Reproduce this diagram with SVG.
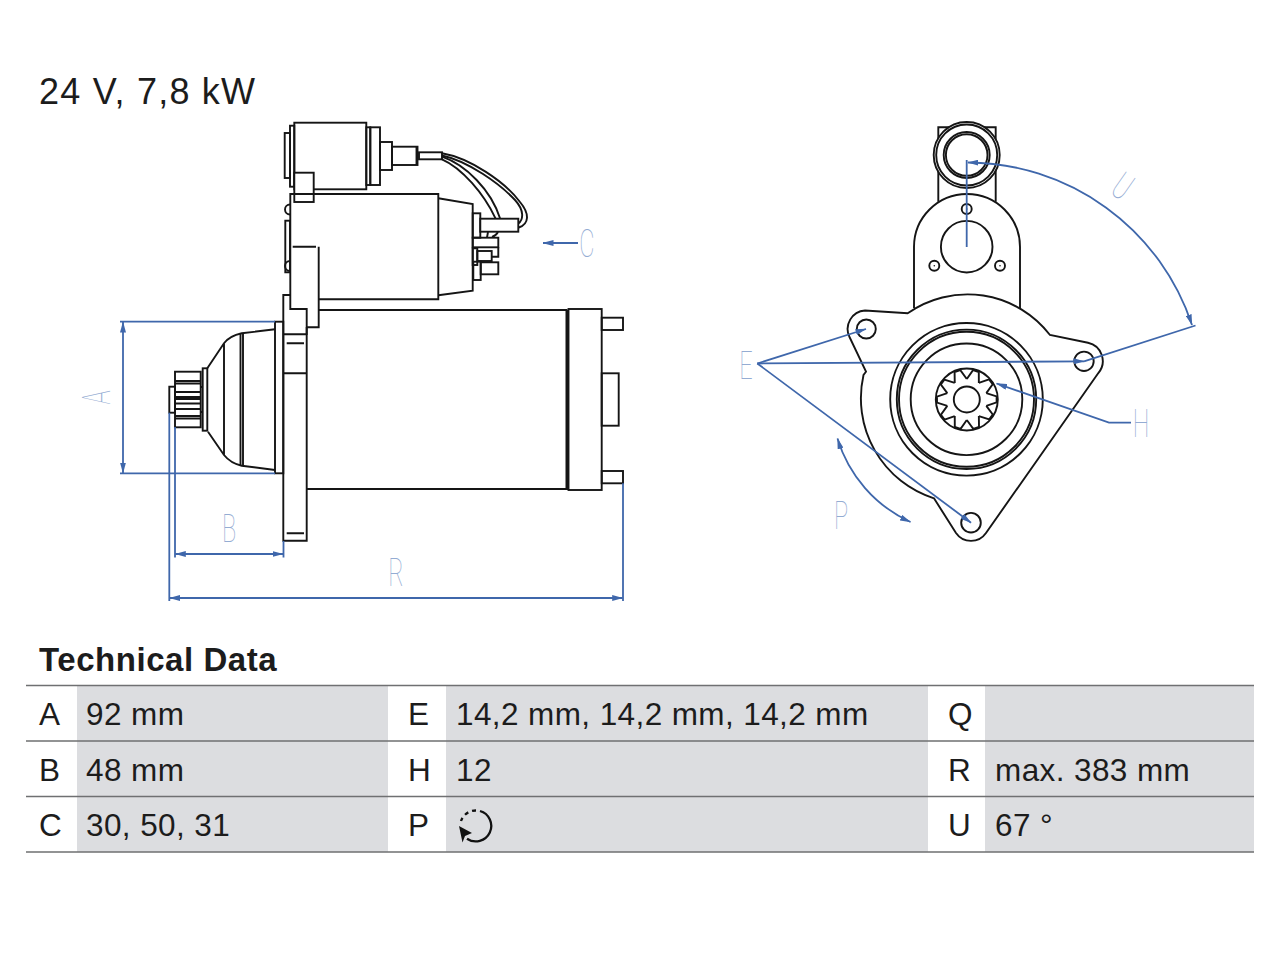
<svg xmlns="http://www.w3.org/2000/svg" xmlns:xlink="http://www.w3.org/1999/xlink" width="1280" height="960" viewBox="0 0 1280 960">
<style>
.k{fill:none;stroke:#151515;stroke-width:1.9;stroke-linejoin:miter}
.w{fill:#fff;stroke:#151515;stroke-width:1.9}
.t{fill:none;stroke:#151515;stroke-width:3}
.b{fill:none;stroke:#3f67ab;stroke-width:1.8}
.a{marker-end:url(#ah)}
.aa{marker-start:url(#ah);marker-end:url(#ah)}
.lab{font-family:Roboto,"Liberation Sans",sans-serif;font-weight:100;font-size:38px;fill:#94acd3;text-anchor:middle}
.td{font-family:"Liberation Sans",Arial,sans-serif;font-size:31.5px;fill:#1c1c1c;letter-spacing:.4px}
.rule{stroke:#6f7072;stroke-width:1.3}
.cell{fill:#dcdde0}
</style>
<defs>
<marker id="ah" viewBox="0 0 11 6" refX="10.5" refY="3" markerWidth="11" markerHeight="6" markerUnits="userSpaceOnUse" orient="auto-start-reverse"><path d="M0,0 L11,3 L0,6 Z" fill="#3f67ab"/></marker>
<polyline id="tooth" points="0,-20.5 6.2,-29.3 12,-27.5 12.05,-16.6" class="k"/>
</defs>
<rect width="1280" height="960" fill="#fff"/>
<text id="title" x="39" y="104" font-family="Liberation Sans,Arial,sans-serif" font-size="36" letter-spacing="1.2" fill="#1c1c1c">24 V, 7,8 kW</text>

<g id="side-view">
 <g id="upper-solenoid">
  <rect class="k" x="284.7" y="133" width="5.3" height="45"/>
  <rect class="k" x="290" y="125.7" width="4.3" height="61"/>
  <rect class="k" x="294.3" y="122.7" width="72" height="66.6"/>
  <rect class="k" x="366.3" y="127.3" width="4" height="57.7"/>
  <rect class="k" x="370.3" y="127.3" width="9.7" height="57.7"/>
  <rect class="k" x="380" y="142" width="12" height="28"/>
  <rect class="k" x="392" y="146.7" width="25.5" height="18.3"/>
  <path class="k" d="M416.5,147V165" stroke-width="2.5"/>
  <rect class="k" x="419" y="152.3" width="23" height="7"/>
  <rect class="w" x="294.3" y="172.7" width="19.4" height="29.3"/>
 </g>
 <g id="wires">
  <path class="k" d="M442,153.3C470,158 505,182 520,202C530,214 529,224 518.8,227.5"/>
  <path class="k" d="M442,155.5C468,161 500,184 515,200C525,211 523,220 518.3,223.5"/>
  <path class="k" d="M442,156.7C466,165 491,190 500,218.3"/>
  <path class="k" d="M442,159.3C462,168 484,194 495.5,218.3"/>
 </g>
 <g id="lower-solenoid">
  <path class="k" d="M290,194H438.3V299.3H319"/>
  <path class="k" d="M438.3,198.3L472.7,204V290.7L438.3,295.3"/>
  <rect class="k" x="472.7" y="213.3" width="7.6" height="24.4"/>
  <rect class="w" x="480.3" y="218.7" width="38" height="13"/>
  <path class="k" d="M488,232L487,237.5M492,237C495,236 497,234 498,232"/>
  <rect class="k" x="472.7" y="237.7" width="25.6" height="9.6"/>
  <path class="k" d="M498.3,247.3V256.7H491.7"/>
  <rect class="k" x="472.7" y="248.3" width="4.6" height="16.7"/>
  <rect class="k" x="477.3" y="251" width="14.4" height="10"/>
  <rect class="k" x="473.3" y="261.7" width="7.4" height="18.3"/>
  <rect class="k" x="480.7" y="262.3" width="17.6" height="12"/>
 </g>
 <g id="bracket">
  <path class="k" d="M294,194H290.3V309H306.7V335"/>
  <path class="k" d="M290,204.5A5,5 0 0 0 290,214.5"/>
  <rect class="k" x="285.3" y="220.7" width="4.7" height="51.6"/>
  <path class="k" d="M290,261A5,5 0 0 0 290,271"/>
  <path class="k" d="M292.7,246.7H316M318.7,246.7V327.3H306.7"/>
  <path class="k" d="M290.3,295H283.3V540.7H306.7V327"/>
  <path class="k" d="M283.3,334.3H306.7M283.3,373.3H306.7M286.7,343.3H304M286.7,533.3H304"/>
 </g>
 <g id="motor">
  <path class="k" d="M318.7,310H567M306.7,489H567"/>
  <path class="t" d="M567,309.5V490"/>
  <rect class="k" x="568.5" y="309" width="33.2" height="181"/>
  <rect class="k" x="601.7" y="317.7" width="21.3" height="12.3"/>
  <rect class="k" x="601.7" y="373.3" width="17" height="52.4"/>
  <rect class="k" x="601.7" y="471" width="21.3" height="12.3"/>
 </g>
 <g id="nose">
  <rect class="k" x="275" y="321.7" width="8.3" height="151.6"/>
  <path class="k" d="M275,329.3L241.7,333.3C234,335 228,338 224,343.3L207.3,368.3M275,470L241.7,465.7C234,464 228,460 224,455L208,431.7M224,343.3V455"/>
  <path class="k" d="M240.5,333.5V465.5M243,333.3V465.7"/>
  <rect class="k" x="202.7" y="368.3" width="4.6" height="62.4"/>
  <path class="k" d="M200.7,387H202.7M200.7,412H202.7"/>
  <rect class="k" x="169.3" y="386.7" width="5.7" height="26"/>
  <rect class="k" x="175" y="371.7" width="25.7" height="55.6" stroke-width="2.2"/>
  <path class="k" d="M175,381H200.7M175,383.5H200.7M175,392H200.7M175,397H200.7M175,399H200.7M175,403.5H200.7M175,409H200.7M175,416H200.7M175,418.5H200.7" stroke-width="1.4"/>
 </g>
</g>

<g id="end-view">
 <g id="end-solenoid">
  <path class="k" d="M938.3,201.7V127.3H995.7V201.7"/>
  <circle cx="966.7" cy="155" r="33" class="w"/>
  <circle cx="966.7" cy="155" r="30.5" class="k"/>
  <circle cx="966.7" cy="155" r="23" class="k" stroke-width="2.4"/>
  <circle cx="966.7" cy="155" r="20.8" class="k"/>
 </g>
 <g id="end-plate">
  <path class="k" d="M914,308V247A53,53 0 0 1 1020,247V309"/>
  <circle cx="966.7" cy="209" r="5" class="k"/>
  <circle cx="966.7" cy="246.7" r="25.8" class="k"/>
  <circle cx="934.3" cy="265.7" r="5" class="k"/>
  <circle cx="934.3" cy="265.7" r=".8" fill="#151515"/>
  <circle cx="1000" cy="265.7" r="5" class="k"/>
  <circle cx="1000" cy="265.7" r=".8" fill="#151515"/>
  <circle cx="966.7" cy="209" r=".8" fill="#151515"/>
 </g>
 <g id="housing">
  <path class="k" d="M907.7,313.3A104,104 0 0 1 1050,335L1088,342.7A18.7,18.7 0 0 1 1098.5,372.8L986,533A18.2,18.2 0 0 1 956,533L934,498.3A105,105 0 0 1 863.5,375L866,371.7L849.5,337A18.5,18.5 0 0 1 865,310.5Z"/>
  <circle cx="866.3" cy="329" r="9.5" class="k"/>
  <circle cx="1084" cy="361.3" r="9.7" class="k"/>
  <circle cx="971" cy="522.7" r="9.8" class="k"/>
 </g>
 <g id="bore">
  <circle cx="966.5" cy="399.3" r="76.3" class="k"/>
  <circle cx="966.5" cy="399.3" r="69.7" class="k"/>
  <circle cx="966.5" cy="399.3" r="67.5" class="k"/>
  <circle cx="966.5" cy="399.3" r="55.8" class="k"/>
 </g>
 <g id="pinion" transform="translate(966.8 399.5)">
  <circle r="31" class="k"/>
  <circle r="13" class="k"/>
  <use xlink:href="#tooth" href="#tooth"/>
  <use xlink:href="#tooth" href="#tooth" transform="rotate(36)"/>
  <use xlink:href="#tooth" href="#tooth" transform="rotate(72)"/>
  <use xlink:href="#tooth" href="#tooth" transform="rotate(108)"/>
  <use xlink:href="#tooth" href="#tooth" transform="rotate(144)"/>
  <use xlink:href="#tooth" href="#tooth" transform="rotate(180)"/>
  <use xlink:href="#tooth" href="#tooth" transform="rotate(216)"/>
  <use xlink:href="#tooth" href="#tooth" transform="rotate(252)"/>
  <use xlink:href="#tooth" href="#tooth" transform="rotate(288)"/>
  <use xlink:href="#tooth" href="#tooth" transform="rotate(324)"/>
 </g>
</g>

<g id="connectors">
 <path class="b" d="M120,321.7H275M120,473.3H275"/>
 <path class="b aa" d="M123,322V473"/>
 <path class="b" d="M175,427V557.5M283.5,541V557.5"/>
 <path class="b aa" d="M175.3,554H283"/>
 <path class="b" d="M169.3,412.7V601M623,483.3V601"/>
 <path class="b aa" d="M169.6,598H622.7"/>
 <path class="b a" d="M578,243H543"/>
 <path class="b a" d="M757.3,363.5L866,329"/>
 <path class="b a" d="M757.3,363.5L1084,361.3"/>
 <path class="b a" d="M757.3,363.5L971,522.7"/>
 <path class="b a" d="M1131,422.7H1109L996.5,383.5"/>
 <path class="b" d="M966.7,160V247"/>
 <path class="b" d="M1084,361.3L1195.5,325.5"/>
 <path class="b aa" d="M968,162.5A237,237 0 0 1 1192,325"/>
 <path class="b aa" d="M837.5,438.5A135,135 0 0 0 910.5,522"/>
</g>

<g id="dimension-labels">
 <text class="lab" transform="translate(110 397.5) rotate(-90) scale(.62 1)">A</text>
 <text class="lab" transform="translate(229 542) scale(.62 1)">B</text>
 <text class="lab" transform="translate(587 257) scale(.62 1)">C</text>
 <text class="lab" transform="translate(746 379) scale(.62 1)">E</text>
 <text class="lab" transform="translate(1141 437) scale(.62 1)">H</text>
 <text class="lab" transform="translate(841 529) scale(.62 1)">P</text>
 <text class="lab" transform="translate(396 586) scale(.62 1)">R</text>
 <text class="lab" transform="translate(1123 186) rotate(35) translate(0 13.5) scale(.62 1)">U</text>
</g>

<text id="heading" x="39" y="671" font-family="Liberation Sans,Arial,sans-serif" font-size="33" font-weight="700" letter-spacing=".55" fill="#1c1c1c">Technical Data</text>
<g id="table">
 <rect class="cell" x="77" y="686" width="311" height="166"/>
 <rect class="cell" x="446" y="686" width="482" height="166"/>
 <rect class="cell" x="985" y="686" width="269" height="166"/>
 <path class="rule" d="M26,685.5H1254M26,741H1254M26,796.5H1254M26,852H1254" fill="none"/>
 <text class="td" x="39" y="725">A</text><text class="td" x="86" y="725">92 mm</text>
 <text class="td" x="39" y="780.5">B</text><text class="td" x="86" y="780.5">48 mm</text>
 <text class="td" x="39" y="836">C</text><text class="td" x="86" y="836">30, 50, 31</text>
 <text class="td" x="408" y="725">E</text><text class="td" x="456" y="725">14,2 mm, 14,2 mm, 14,2 mm</text>
 <text class="td" x="408" y="780.5">H</text><text class="td" x="456" y="780.5">12</text>
 <text class="td" x="408" y="836">P</text>
 <text class="td" x="948" y="725">Q</text>
 <text class="td" x="948" y="780.5">R</text><text class="td" x="995" y="780.5">max. 383 mm</text>
 <text class="td" x="948" y="836">U</text><text class="td" x="995" y="836">67 °</text>
 <g id="rotation-icon">
  <path d="M480,811A15.5,15.5 0 1 1 467,838.7" fill="none" stroke="#111" stroke-width="2.3"/>
  <path d="M476,810.5A15.5,15.5 0 0 0 461,821" fill="none" stroke="#111" stroke-width="2.3" stroke-dasharray="4 4"/>
  <path d="M459,826L472,833L465,836L462.5,842.5Z" fill="#111"/>
 </g>
</g>
</svg>
